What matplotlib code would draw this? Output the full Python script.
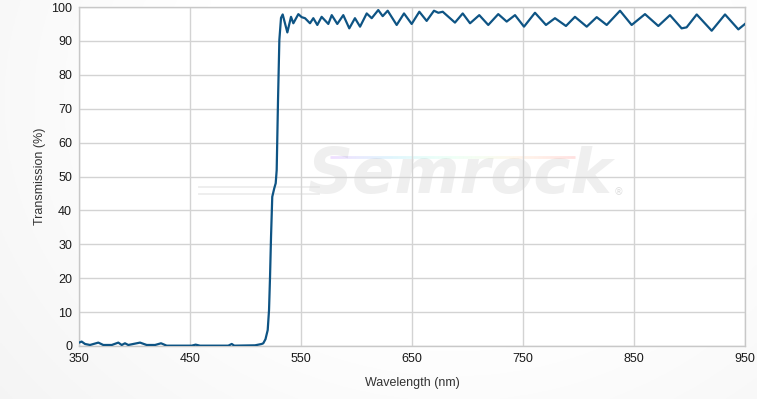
import numpy as np
import matplotlib
matplotlib.use("Agg")
import matplotlib.pyplot as plt
from matplotlib.collections import LineCollection

plt.rcParams['font.family'] = ['Liberation Sans', 'DejaVu Sans']

# --- data ---
wavelength = [350.0, 352.4, 355.4, 359.9, 367.4, 371.9, 379.5, 385.4, 388.5, 391.4,
              394.4, 405.0, 411.0, 418.5, 423.9, 429.0, 451.5, 455.1, 459.0, 484.5,
              487.6, 489.9, 508.6, 514.6, 516.0, 518.0, 520.0, 521.2, 522.1, 523.0,
              524.1, 525.9, 527.2, 528.1, 529.3, 530.5, 532.0, 533.5, 537.7, 541.0,
              543.1, 547.6, 550.6, 553.6, 558.1, 561.1, 564.7, 568.6, 574.6, 577.7,
              582.7, 588.1, 593.5, 598.6, 603.2, 609.2, 613.7, 619.6, 623.6, 628.1,
              636.2, 642.8, 649.7, 656.6, 663.2, 669.8, 673.7, 677.7, 688.7, 695.7,
              702.3, 710.6, 718.7, 727.7, 735.3, 742.8, 750.9, 760.8, 770.7, 778.8,
              788.7, 796.8, 807.4, 816.4, 825.4, 837.4, 847.9, 859.9, 871.9, 882.4,
              892.9, 897.4, 906.5, 920.0, 932.0, 935.0, 944.0, 950.0]
transmission = [1.0, 1.3, 0.6, 0.3, 1.0, 0.3, 0.3, 1.0, 0.3, 0.8,
                0.3, 1.0, 0.3, 0.3, 0.8, 0.1, 0.1, 0.4, 0.1, 0.1,
                0.6, 0.1, 0.2, 0.6, 0.8, 2.0, 4.7, 10.6, 20.4, 32.2,
                44.0, 46.5, 48.0, 51.9, 72.6, 90.3, 96.8, 97.8, 92.5, 97.1,
                95.2, 97.9, 97.0, 96.7, 95.2, 96.7, 94.7, 97.1, 95.0, 97.6,
                95.0, 97.6, 93.7, 96.7, 94.2, 98.1, 96.7, 99.1, 97.3, 98.9,
                94.7, 98.1, 95.0, 98.6, 95.9, 98.9, 98.3, 98.6, 95.4, 98.1,
                95.2, 97.6, 94.7, 97.9, 95.7, 97.6, 94.2, 98.3, 94.7, 96.7,
                94.4, 97.1, 94.2, 97.0, 94.7, 98.9, 94.7, 97.9, 94.4, 97.6,
                93.7, 94.0, 97.8, 93.0, 97.8, 96.7, 93.4, 95.0]
x_ticks = [350, 450, 550, 650, 750, 850, 950]
y_ticks = [0, 10, 20, 30, 40, 50, 60, 70, 80, 90, 100]

W, H = 757, 399
fig = plt.figure(figsize=(W / 100, H / 100), dpi=100)

# subtle background gradient (light gray at left / bottom edges)
bg = fig.add_axes([0, 0, 1, 1], zorder=-10)
gx = np.linspace(0, 1, 300)
gy = np.linspace(0, 1, 300)
GX, GY = np.meshgrid(gx, gy)
d = np.sqrt(((GX - 0.6) / 0.6) ** 2 + ((GY - 0.25) / 0.95) ** 2)
shade = 1.0 - 0.06 * np.clip(d - 0.6, 0, 1)
bg.imshow(np.dstack([shade] * 3), extent=[0, 1, 0, 1], aspect='auto', origin='upper',
          vmin=0, vmax=1)
bg.axis('off')

ax = fig.add_axes([79 / W, 1 - 346 / H, (745 - 79) / W, (346 - 7) / H])
ax.set_facecolor('white')
ax.set_xlim(350, 950)
ax.set_ylim(0, 100)
ax.set_xticks(x_ticks)
ax.set_yticks(y_ticks)
ax.grid(True, color='#d3d3d3', linewidth=1.0, zorder=0)
for s in ax.spines.values():
    s.set_color('#c8c8c8')
    s.set_linewidth(1.0)
ax.tick_params(length=0, labelsize=9, colors='#1a1a1a', pad=5)
ax.set_xlabel('Wavelength (nm)', fontsize=9, color='#333333', labelpad=9)
ax.set_ylabel('Transmission (%)', fontsize=9, color='#333333', labelpad=4)

# watermark
ax.text(0.572, 0.50, 'Semrock', transform=ax.transAxes, fontsize=45, fontweight='bold',
        fontstyle='italic', color='#dcdcdc', alpha=0.45, ha='center', va='center',
        family='DejaVu Sans', zorder=1)
ax.text(0.803, 0.455, '\u00ae', transform=ax.transAxes, fontsize=7, color='#d0d0d0',
        alpha=0.7, ha='left', va='center', family='DejaVu Sans', zorder=1)
for yy in (0.468, 0.447):
    ax.plot([0.18, 0.36], [yy, yy], transform=ax.transAxes,
            color='#e0e0e0', alpha=0.6, lw=1.3, zorder=1)
cmap = plt.get_cmap('rainbow')
xs = np.linspace(0.377, 0.745, 60)
segs = [[(xs[i], 0.558), (xs[i + 1], 0.558)] for i in range(len(xs) - 1)]
lc = LineCollection(segs, colors=[cmap(i / len(segs)) for i in range(len(segs))],
                    linewidths=2.0, alpha=0.12, transform=ax.transAxes, zorder=1)
ax.add_collection(lc)

ax.plot(wavelength, transmission, color='#0e5484', linewidth=1.6, zorder=3,
        solid_joinstyle='round')

fig.savefig('out.png', dpi=100)
